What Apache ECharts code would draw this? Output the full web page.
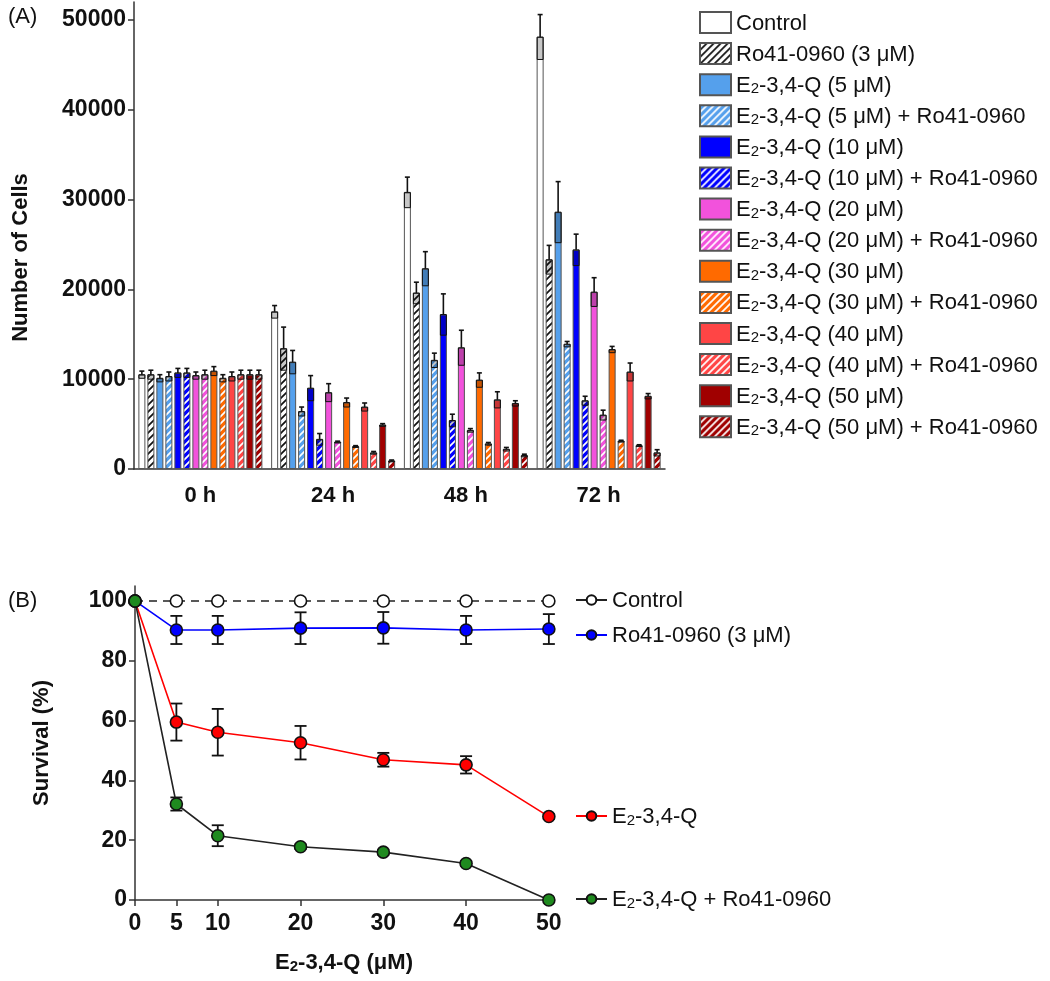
<!DOCTYPE html>
<html><head><meta charset="utf-8">
<script src="https://cdn.jsdelivr.net/npm/echarts@6/dist/echarts.min.js"></script>
<style>html,body{margin:0;padding:0;background:#fff}#c{width:1050px;height:981px}</style>
</head><body><div id="c"></div>
<script>
// ---------- Panel A data ----------
const timeCategories = ['0 h', '24 h', '48 h', '72 h'];
const yTicksA = [0, 10000, 20000, 30000, 40000, 50000];
const barNames = [
  'Control', 'Ro41-0960 (3 μM)',
  'E2-3,4-Q (5 μM)', 'E2-3,4-Q (5 μM) + Ro41-0960',
  'E2-3,4-Q (10 μM)', 'E2-3,4-Q (10 μM) + Ro41-0960',
  'E2-3,4-Q (20 μM)', 'E2-3,4-Q (20 μM) + Ro41-0960',
  'E2-3,4-Q (30 μM)', 'E2-3,4-Q (30 μM) + Ro41-0960',
  'E2-3,4-Q (40 μM)', 'E2-3,4-Q (40 μM) + Ro41-0960',
  'E2-3,4-Q (50 μM)', 'E2-3,4-Q (50 μM) + Ro41-0960'
];
const control      = [10500, 17500, 30800, 48100];
const controlErr   = [400, 700, 1700, 2500];
const ro           = [10500, 13400, 19600, 23300];
const roErr        = [500, 2400, 1200, 1600];
const q5           = [10100, 11900, 22300, 28600];
const q5Err        = [400, 1300, 1900, 3400];
const q5Ro         = [10300, 6400, 12100, 13900];
const q5RoErr      = [500, 500, 800, 300];
const q10          = [10700, 9000, 17200, 24400];
const q10Err       = [500, 1400, 2300, 1750];
const q10Ro        = [10700, 3300, 5400, 7600];
const q10RoErr     = [500, 650, 700, 500];
const q20          = [10400, 8500, 13500, 19700];
const q20Err       = [400, 1000, 1950, 1600];
const q20Ro        = [10500, 3000, 4300, 6000];
const q20RoErr     = [500, 100, 200, 550];
const q30          = [10900, 7400, 9900, 13300];
const q30Err       = [500, 500, 800, 350];
const q30Ro        = [10100, 2500, 2800, 3100];
const q30RoErr     = [400, 100, 150, 100];
const q40          = [10300, 6900, 7700, 10800];
const q40Err       = [500, 450, 900, 1000];
const q40Ro        = [10500, 1800, 2200, 2600];
const q40RoErr     = [500, 150, 200, 100];
const q50          = [10500, 4900, 7300, 8100];
const q50Err       = [500, 150, 300, 300];
const q50Ro        = [10500, 900, 1500, 1800];
const q50RoErr     = [500, 100, 150, 350];

// ---------- Panel B data ----------
const doses = [0, 5, 10, 20, 30, 40, 50];
const doseTicks = [0, 5, 10, 20, 30, 40, 50];
const yTicksB = [0, 20, 40, 60, 80, 100];
const survLabels = ['Control', 'Ro41-0960 (3 μM)', 'E2-3,4-Q', 'E2-3,4-Q + Ro41-0960'];
const survControl = [100, 100, 100, 100, 100, 100, 100];
const survRo      = [100, 90.3, 90.3, 90.9, 91.0, 90.3, 90.6];
const survRoErr   = [0, 4.7, 4.7, 5.3, 5.3, 4.7, 5.0];
const survQ       = [100, 59.5, 56.1, 52.6, 46.9, 45.2, 27.9];
const survQErr    = [0, 6.2, 7.8, 5.6, 2.3, 2.9, 0.8];
const survQRo     = [100, 32.1, 21.5, 17.8, 16.0, 12.2, 0];
const survQRoErr  = [0, 2.2, 3.5, 0.8, 0.8, 0.8, 0];

// ---------- styling ----------
const FONT = "'Liberation Sans', Arial, Helvetica, sans-serif";
const PREFIX_B = 'B: ';
const survNames = survLabels.map(s => PREFIX_B + s);
const barMeans = [control, ro, q5, q5Ro, q10, q10Ro, q20, q20Ro, q30, q30Ro, q40, q40Ro, q50, q50Ro];
const barErrs  = [controlErr, roErr, q5Err, q5RoErr, q10Err, q10RoErr, q20Err, q20RoErr, q30Err, q30RoErr, q40Err, q40RoErr, q50Err, q50RoErr];
const baseColors = ['#ffffff', '#ffffff', '#55a0ec', '#55a0ec', '#0000ff', '#0000ff', '#f252dc', '#f252dc',
                    '#ff6a00', '#ff6a00', '#ff4545', '#ff4545', '#a00000', '#a00000'];
const BAR_W = 7, BAR_GAP = 2, BAR_PITCH = BAR_W + BAR_GAP;

function hatch(bg, fg) {
  const s = 7;
  const cv = document.createElement('canvas');
  cv.width = s; cv.height = s;
  const ctx = cv.getContext('2d');
  ctx.fillStyle = bg; ctx.fillRect(0, 0, s, s);
  ctx.strokeStyle = fg; ctx.lineWidth = 1.7;
  ctx.beginPath();
  ctx.moveTo(-1, s + 1); ctx.lineTo(s + 1, -1);
  ctx.moveTo(-1, 1); ctx.lineTo(1, -1);
  ctx.moveTo(s - 1, s + 1); ctx.lineTo(s + 1, s - 1);
  ctx.stroke();
  return {image: cv, repeat: 'repeat'};
}

function richName(name) {
  if (name.indexOf(PREFIX_B) === 0) name = name.slice(PREFIX_B.length);
  if (name.indexOf('E2') === 0) return '{n|E}{s|2}{n|' + name.slice(2) + '}';
  return '{n|' + name + '}';
}
const richStyle = {
  n: {fontSize: 22, fontFamily: FONT, color: '#111', lineHeight: 24, verticalAlign: 'bottom'},
  s: {fontSize: 15, fontFamily: FONT, color: '#111', lineHeight: 14, verticalAlign: 'bottom'}
};
const richBold = {
  n: {fontSize: 22, fontWeight: 'bold', fontFamily: FONT, color: '#111', lineHeight: 24, verticalAlign: 'bottom'},
  s: {fontSize: 15, fontWeight: 'bold', fontFamily: FONT, color: '#111', lineHeight: 14, verticalAlign: 'bottom'}
};

const barSeries = barNames.map((name, i) => {
  const hatched = i % 2 === 1;
  let color;
  if (i === 1) color = hatch('#ffffff', '#111111');
  else if (hatched) color = hatch(baseColors[i], '#ffffff');
  else color = baseColors[i];
  return {
    name: name, type: 'bar', xAxisIndex: 0, yAxisIndex: 0,
    barWidth: BAR_W, barGap: (BAR_GAP / BAR_W * 100) + '%',
    data: barMeans[i],
    itemStyle: {color: color, borderColor: '#555', borderWidth: 1},
    emphasis: {disabled: true},
    z: 2
  };
});

const barErrData = [];
barMeans.forEach((arr, si) => arr.forEach((v, ci) => barErrData.push([ci, si, v, barErrs[si][ci]])));

function renderBarErr(params, api) {
  const cat = api.value(0), si = api.value(1), mean = api.value(2), err = api.value(3);
  const c = api.coord([cat, mean]);
  const x = c[0] + (si - (barNames.length - 1) / 2) * BAR_PITCH;
  const yTop = api.coord([cat, mean + err])[1];
  const yLow = api.coord([cat, mean - err])[1];
  const yMean = c[1];
  const hw = BAR_W / 2;
  return {type: 'group', children: [
    {type: 'rect', shape: {x: x - hw + 0.5, y: yMean, width: BAR_W - 1, height: yLow - yMean},
     style: {fill: 'rgba(0,0,0,0.22)', stroke: '#111', lineWidth: 1}},
    {type: 'line', shape: {x1: x, y1: yMean, x2: x, y2: yTop}, style: {stroke: '#111', lineWidth: 1.6}},
    {type: 'line', shape: {x1: x - 2.5, y1: yTop, x2: x + 2.5, y2: yTop}, style: {stroke: '#111', lineWidth: 1.6}}
  ]};
}

function errData(means, errs) { return doses.map((d, i) => [d, means[i], errs[i]]); }
function renderLineErr(params, api) {
  const x = api.value(0), m = api.value(1), e = api.value(2);
  if (!e) return null;
  const top = api.coord([x, m + e]), bot = api.coord([x, m - e]);
  const hw = 6;
  const st = {stroke: '#111', lineWidth: 1.8};
  return {type: 'group', children: [
    {type: 'line', shape: {x1: top[0], y1: top[1], x2: bot[0], y2: bot[1]}, style: st},
    {type: 'line', shape: {x1: top[0] - hw, y1: top[1], x2: top[0] + hw, y2: top[1]}, style: st},
    {type: 'line', shape: {x1: bot[0] - hw, y1: bot[1], x2: bot[0] + hw, y2: bot[1]}, style: st}
  ]};
}

const axisLineStyle = {color: '#333', width: 1.5};
const tickLabelStyle = {fontSize: 23, fontWeight: 'bold', fontFamily: FONT, color: '#111', formatter: v => String(v)};

function lineLegend(name, top) {
  return {
    data: [name], orient: 'vertical', left: 570, top: top,
    itemWidth: 31, itemHeight: 12, itemGap: 6,
    lineStyle: {type: 'solid'},
    textStyle: {rich: richStyle}, formatter: richName,
    selectedMode: false
  };
}

const option = {
  animation: false,
  backgroundColor: '#fff',
  grid: [
    {left: 134, top: 2, width: 531, height: 467, containLabel: false},
    {left: 135, top: 586, width: 418, height: 314, containLabel: false}
  ],
  xAxis: [
    {type: 'category', gridIndex: 0, data: timeCategories,
     axisLine: {lineStyle: axisLineStyle},
     axisTick: {alignWithLabel: true, length: 5, lineStyle: axisLineStyle},
     axisLabel: Object.assign({}, tickLabelStyle, {fontSize: 22, margin: 16, formatter: null})},
    {type: 'value', gridIndex: 1, min: 0, max: 50.5,
     axisLine: {lineStyle: axisLineStyle},
     axisTick: {customValues: doseTicks, length: 6, lineStyle: axisLineStyle},
     axisLabel: Object.assign({customValues: doseTicks, margin: 12}, tickLabelStyle),
     splitLine: {show: false},
     name: '{n|E}{s|2}{n|-3,4-Q (μM)}', nameLocation: 'middle', nameGap: 50,
     nameTextStyle: {rich: richBold}}
  ],
  yAxis: [
    {type: 'value', gridIndex: 0, min: 0, max: 52000,
     axisLine: {show: true, lineStyle: axisLineStyle},
     axisTick: {show: true, customValues: yTicksA, length: 6, lineStyle: axisLineStyle},
     axisLabel: Object.assign({customValues: yTicksA, margin: 8}, tickLabelStyle),
     splitLine: {show: false},
     name: 'Number of Cells', nameLocation: 'middle', nameGap: 102,
     nameTextStyle: {fontSize: 22, fontWeight: 'bold', fontFamily: FONT, color: '#111', padding: [0, 44, 0, 0]}},
    {type: 'value', gridIndex: 1, min: 0, max: 105,
     axisLine: {show: true, lineStyle: axisLineStyle},
     axisTick: {show: true, customValues: yTicksB, length: 6, lineStyle: axisLineStyle},
     axisLabel: Object.assign({customValues: yTicksB, margin: 8}, tickLabelStyle),
     splitLine: {show: false},
     name: 'Survival (%)', nameLocation: 'middle', nameGap: 82,
     nameTextStyle: {fontSize: 22, fontWeight: 'bold', fontFamily: FONT, color: '#111'}}
  ],
  legend: [
    {data: barNames, orient: 'vertical', left: 694, top: 6, icon: 'rect',
     itemWidth: 31, itemHeight: 21, itemGap: 7.6,
     textStyle: {rich: richStyle}, formatter: richName, selectedMode: false},
    lineLegend(survNames[0], 585),
    lineLegend(survNames[1], 620),
    lineLegend(survNames[2], 801),
    lineLegend(survNames[3], 884)
  ],
  graphic: [
    {type: 'text', left: 8, top: 6, style: {text: '(A)', font: '22px ' + FONT, fill: '#111'}},
    {type: 'text', left: 8, top: 590, style: {text: '(B)', font: '22px ' + FONT, fill: '#111'}}
  ],
  series: barSeries.concat([
    {type: 'custom', name: 'errA', xAxisIndex: 0, yAxisIndex: 0, data: barErrData,
     encode: {x: 0, y: 2}, renderItem: renderBarErr, z: 3, silent: true},
    {type: 'custom', name: 'errRo', xAxisIndex: 1, yAxisIndex: 1, data: errData(survRo, survRoErr),
     encode: {x: 0, y: 1}, renderItem: renderLineErr, z: 1, silent: true},
    {type: 'custom', name: 'errQ', xAxisIndex: 1, yAxisIndex: 1, data: errData(survQ, survQErr),
     encode: {x: 0, y: 1}, renderItem: renderLineErr, z: 1, silent: true},
    {type: 'custom', name: 'errQRo', xAxisIndex: 1, yAxisIndex: 1, data: errData(survQRo, survQRoErr),
     encode: {x: 0, y: 1}, renderItem: renderLineErr, z: 1, silent: true},
    {name: survNames[0], type: 'line', xAxisIndex: 1, yAxisIndex: 1,
     data: doses.map((d, i) => [d, survControl[i]]),
     symbol: 'circle', symbolSize: 12,
     lineStyle: {color: '#222', width: 1.6, type: [8, 6]},
     itemStyle: {color: '#ffffff', borderColor: '#111', borderWidth: 1.6}, z: 2},
    {name: survNames[1], type: 'line', xAxisIndex: 1, yAxisIndex: 1,
     data: doses.map((d, i) => [d, survRo[i]]),
     symbol: 'circle', symbolSize: 12,
     lineStyle: {color: '#0000ff', width: 1.6},
     itemStyle: {color: '#0000ff', borderColor: '#111', borderWidth: 1.6}, z: 2},
    {name: survNames[2], type: 'line', xAxisIndex: 1, yAxisIndex: 1,
     data: doses.map((d, i) => [d, survQ[i]]),
     symbol: 'circle', symbolSize: 12,
     lineStyle: {color: '#ff0000', width: 1.6},
     itemStyle: {color: '#ff0000', borderColor: '#111', borderWidth: 1.6}, z: 2},
    {name: survNames[3], type: 'line', xAxisIndex: 1, yAxisIndex: 1,
     data: doses.map((d, i) => [d, survQRo[i]]),
     symbol: 'circle', symbolSize: 12,
     lineStyle: {color: '#222', width: 1.6},
     itemStyle: {color: '#1f8a1f', borderColor: '#111', borderWidth: 1.6}, z: 2}
  ])
};

const chart = echarts.init(document.getElementById('c'), null, {renderer: 'canvas'});
chart.setOption(option);
</script></body></html>
